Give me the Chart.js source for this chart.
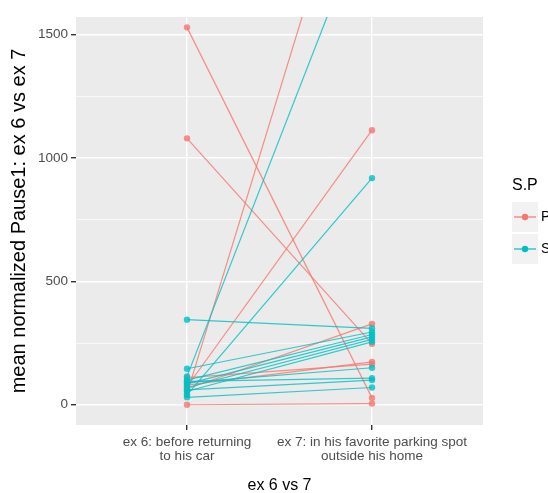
<!DOCTYPE html>
<html>
<head>
<meta charset="utf-8">
<script src="https://cdn.jsdelivr.net/npm/chart.js@4.4.0/dist/chart.umd.min.js"></script>
<style>
html, body { margin: 0; padding: 0; background: #fff; }
</style>
</head>
<body>
<canvas id="myChart" width="548" height="493"></canvas>
<script>
// hai điều kiện trên trục x
var xLabels = [['ex 6: before returning', 'to his car'], ['ex 7: in his favorite parking spot', 'outside his home']];

// nhóm P: giá trị ở ex 6 và ex 7, mỗi cặp là một đường
var pEx6 = [1530, 1080, 0, 45, 73, 65, 80, 110];
var pEx7 = [28, 247, 5, 2500, 1113, 328, 174, 165];

// nhóm S
var sEx6 = [345, 146, 115, 40, 100, 85, 70, 55, 90, 95, 60, 30];
var sEx7 = [310, 295, 2040, 919, 285, 275, 265, 255, 150, 108, 100, 70];

var yTicks = [0, 250, 500, 750, 1000, 1250, 1500];

var mauP = '#F8766D';
var mauS = '#00BFC4';

function taoDuong(ex6, ex7, mau) {
    return ex6.map(function(v, i) {
        return {
            data: [{x: 1, y: v}, {x: 2, y: ex7[i]}],
            borderColor: mau + 'CC',
            backgroundColor: mau + 'CC',
            borderWidth: 1.2,
            pointRadius: 3.2,
            pointBorderWidth: 0,
            clip: 0
        };
    });
}

Chart.defaults.font.family = '"Liberation Sans", Arial, sans-serif';

// nền xám của vùng vẽ
var nenXam = {
    id: 'nenXam',
    beforeDraw: function(chart) {
        var a = chart.chartArea, ctx = chart.ctx;
        ctx.save();
        ctx.fillStyle = '#EBEBEB';
        ctx.fillRect(a.left, a.top, a.right - a.left, a.bottom - a.top);
        ctx.restore();
    }
};

// chú thích S.P bên phải
var chuThich = {
    id: 'chuThich',
    afterDraw: function(chart) {
        var ctx = chart.ctx;
        var keys = [{label: 'P', mau: mauP}, {label: 'S', mau: mauS}];
        ctx.save();
        ctx.textBaseline = 'middle';
        ctx.fillStyle = '#000';
        ctx.font = '16px "Liberation Sans", Arial, sans-serif';
        ctx.fillText('S.P', 512, 186);
        keys.forEach(function(k, i) {
            var y = 217 + i * 32;
            ctx.fillStyle = '#F2F2F2';
            ctx.fillRect(512, y - 15, 26, 30);
            ctx.strokeStyle = k.mau;
            ctx.lineWidth = 1.2;
            ctx.beginPath();
            ctx.moveTo(514, y);
            ctx.lineTo(536, y);
            ctx.stroke();
            ctx.fillStyle = k.mau;
            ctx.beginPath();
            ctx.arc(525, y, 3.2, 0, Math.PI * 2);
            ctx.fill();
            ctx.fillStyle = '#000';
            ctx.font = '14px "Liberation Sans", Arial, sans-serif';
            ctx.fillText(k.label, 541, y);
        });
        ctx.restore();
    }
};

var chart = new Chart('myChart', {
    type: 'line',
    data: {
        // S vẽ sau cùng nên đặt lên đầu (Chart.js vẽ ngược thứ tự)
        datasets: taoDuong(sEx6, sEx7, mauS).concat(taoDuong(pEx6, pEx7, mauP))
    },
    plugins: [nenXam, chuThich],
    options: {
        responsive: false,
        animation: false,
        layout: { padding: { top: 17, right: 65, left: 0, bottom: 0 } },
        plugins: {
            legend: { display: false },
            tooltip: { enabled: false }
        },
        scales: {
            x: {
                type: 'linear',
                min: 0.4,
                max: 2.6,
                afterBuildTicks: function(s) { s.ticks = [{value: 1}, {value: 2}]; },
                afterFit: function(s) { s.height = 68; },
                ticks: {
                    callback: function(v) { return xLabels[v - 1]; },
                    color: '#4D4D4D',
                    font: { size: 13.5, lineHeight: 1.05 },
                    padding: 5,
                    maxRotation: 0,
                    minRotation: 0,
                    autoSkip: false
                },
                grid: { color: '#FFFFFF', lineWidth: 1.4, tickColor: '#333333', tickLength: 5 },
                border: { display: false },
                title: { display: true, text: 'ex 6 vs 7', color: '#000', font: { size: 16 }, padding: { top: 0, bottom: -2 } }
            },
            y: {
                min: -82,
                max: 1572,
                afterBuildTicks: function(s) {
                    s.ticks = yTicks.map(function(v) { return {value: v}; });
                },
                afterFit: function(s) { s.width = 76; },
                ticks: {
                    callback: function(v) { return v % 500 === 0 ? String(v) : ''; },
                    color: '#4D4D4D',
                    font: { size: 13.5 },
                    padding: 3
                },
                grid: {
                    color: '#FFFFFF',
                    lineWidth: function(c) { return c.tick && c.tick.value % 500 === 0 ? 1.4 : 0.7; },
                    tickColor: function(c) { return c.tick && c.tick.value % 500 === 0 ? '#333333' : 'rgba(0,0,0,0)'; },
                    tickLength: 5
                },
                border: { display: false },
                title: { display: true, text: 'mean normalized Pause1: ex 6 vs ex 7', color: '#000', font: { size: 20 }, padding: { top: 7, bottom: 0 } }
            }
        }
    }
});
</script>
</body>
</html>
